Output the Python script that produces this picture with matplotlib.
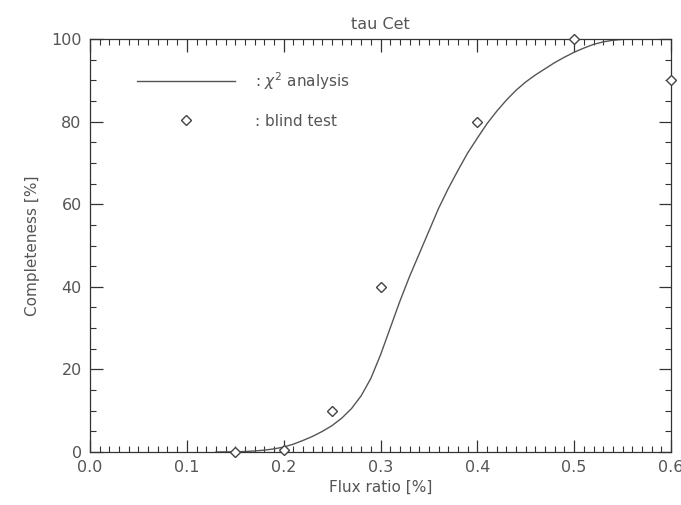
import matplotlib
matplotlib.use("Agg")
import matplotlib.pyplot as plt
from matplotlib.ticker import MultipleLocator, FormatStrFormatter

# chi^2 analysis curve
curve_x = [0.13, 0.14, 0.15, 0.16, 0.17, 0.18, 0.19, 0.20, 0.21, 0.22, 0.23, 0.24,
           0.25, 0.26, 0.27, 0.28, 0.29, 0.30, 0.31, 0.32, 0.33, 0.34, 0.35, 0.36,
           0.37, 0.38, 0.39, 0.40, 0.41, 0.42, 0.43, 0.44, 0.45, 0.46, 0.47, 0.48,
           0.49, 0.50, 0.51, 0.52, 0.53, 0.54, 0.55, 0.56, 0.58, 0.60]
curve_y = [0.0, 0.02, 0.05, 0.12, 0.25, 0.45, 0.75, 1.2, 1.9, 2.8, 3.8, 5.0,
           6.4, 8.2, 10.5, 13.6, 17.8, 23.5, 30.0, 36.5, 42.5, 48.0, 53.5, 59.0,
           63.8, 68.2, 72.4, 76.0, 79.5, 82.5, 85.2, 87.6, 89.6, 91.3, 92.8, 94.3,
           95.6, 96.8, 97.8, 98.7, 99.3, 99.7, 99.9, 100.0, 100.0, 100.0]

# blind test points
blind_x = [0.15, 0.20, 0.25, 0.30, 0.40, 0.50, 0.60]
blind_y = [0.0, 0.5, 10.0, 40.0, 80.0, 100.0, 90.0]

title = "tau Cet"
xlabel = "Flux ratio [%]"
ylabel = "Completeness [%]"
label_curve = r": $\chi^2$ analysis"
label_blind = ": blind test"

txt = "#555555"
plt.rcParams['font.family'] = ['DejaVu Sans']
plt.rcParams['font.size'] = 11
plt.rcParams['mathtext.fontset'] = 'dejavusans'

fig = plt.figure(figsize=(6.81, 5.05), dpi=100)
ax = fig.add_axes([90/681, 53/505, 581/681, 413/505])

ax.plot(curve_x, curve_y, color="#555555", lw=1.0, label=label_curve)
ax.plot(blind_x, blind_y, linestyle="none", marker="D", markersize=5.5,
        markerfacecolor="white", markeredgecolor="#444444", markeredgewidth=1.0,
        label=label_blind, clip_on=False, zorder=5)

ax.set_xlim(0.0, 0.6)
ax.set_ylim(0, 100)
ax.xaxis.set_major_locator(MultipleLocator(0.1))
ax.xaxis.set_minor_locator(MultipleLocator(0.01))
ax.xaxis.set_major_formatter(FormatStrFormatter("%.1f"))
ax.yaxis.set_major_locator(MultipleLocator(20))
ax.yaxis.set_minor_locator(MultipleLocator(5))

ax.tick_params(which="both", direction="in", top=True, right=True, colors="#333333",
               labelcolor=txt, labelsize=11.5)
ax.tick_params(which="major", length=9, width=0.9, pad=6)
ax.tick_params(which="minor", length=4.5, width=0.8)
for s in ax.spines.values():
    s.set_color("#333333")
    s.set_linewidth(0.9)

ax.set_title(title, color=txt, fontsize=11.5, pad=7)
ax.set_xlabel(xlabel, color=txt, fontsize=11, labelpad=3)
ax.set_ylabel(ylabel, color=txt, fontsize=11, labelpad=8)

leg = ax.legend(loc="upper left", bbox_to_anchor=(0.081, 0.925), frameon=False,
                handlelength=6.4, handletextpad=1.3, labelspacing=1.45, borderpad=0,
                borderaxespad=0, fontsize=11)
for t in leg.get_texts():
    t.set_color(txt)

fig.savefig("out.png", dpi=100)
